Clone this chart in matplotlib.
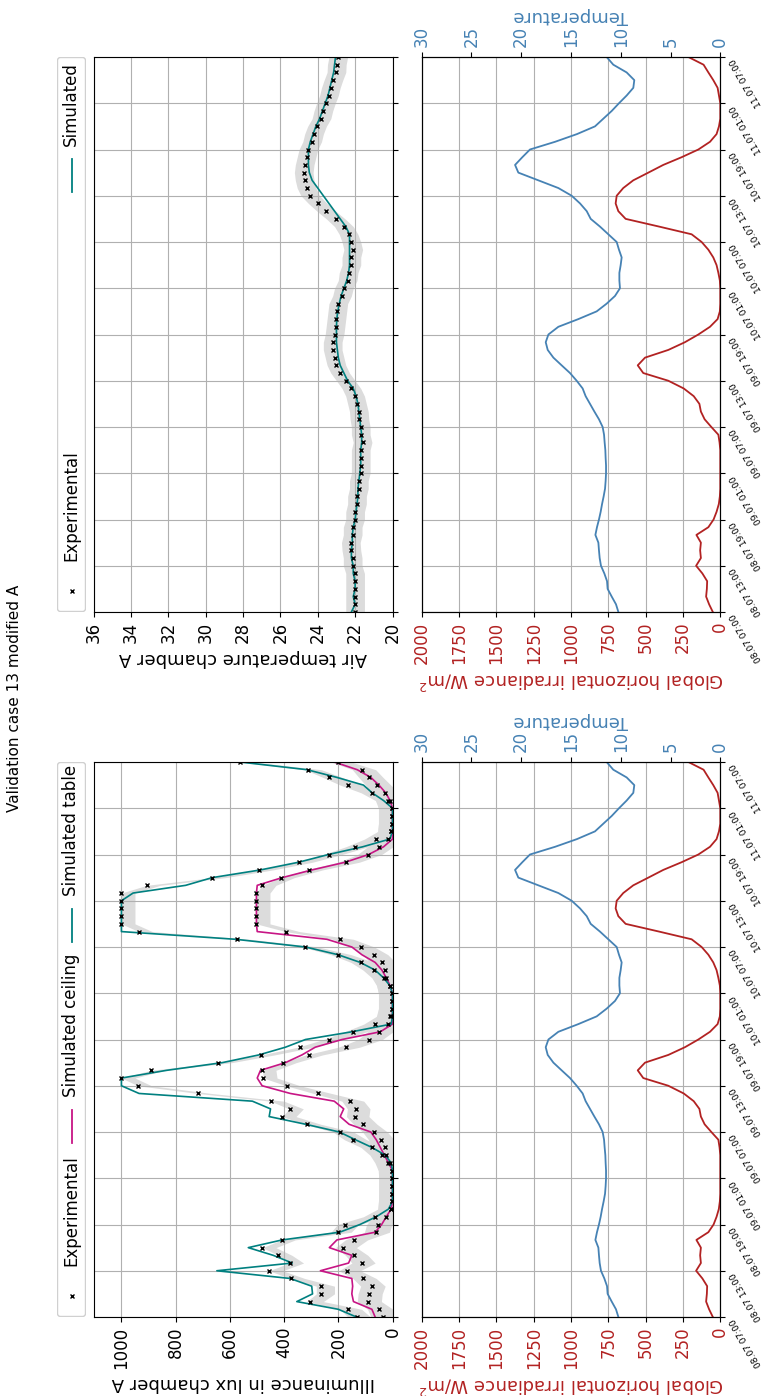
import numpy as np
import pandas as pd
import matplotlib
matplotlib.use("Agg")
import matplotlib.pyplot as plt
import matplotlib.dates as mdates
from matplotlib.patches import FancyBboxPatch
from matplotlib.lines import Line2D

# hourly values, 08.07 07:00 -> 11.07 07:00
times = pd.date_range("2023-07-08 07:00", periods=73, freq="h")

illum_exp_table = [
    131, 164, 305, 264, 264, 374, 455, 378, 421, 480,
    409, 202, 175, 66, 5, 2, 1, 1, 1, 3,
    17, 38, 76, 146, 194, 314, 406, 379, 450, 718,
    939, 1000, 892, 642, 485, 342, 234, 145, 64, 11,
    2, 2, 2, 10, 30, 67, 118, 202, 324, 575,
    936, 1000, 1000, 1000, 1000, 1000, 907, 666, 491, 345,
    236, 140, 61, 5, 2, 2, 2, 15, 75, 163,
    236, 312, 563,
]
illum_exp_ceiling = [
    34, 48, 91, 88, 77, 110, 169, 114, 141, 183,
    142, 61, 52, 23, 4, 2, 1, 1, 1, 2,
    10, 23, 29, 44, 69, 107, 137, 133, 156, 275,
    391, 476, 480, 405, 308, 171, 87, 48, 15, 5,
    2, 2, 2, 9, 23, 27, 39, 67, 117, 194,
    393, 502, 502, 502, 502, 502, 480, 412, 308, 172,
    90, 48, 15, 5, 2, 2, 2, 8, 27, 56,
    85, 112, 202,
]
illum_sim_table = [
    133, 200, 353, 295, 298, 378, 648, 370, 440, 532,
    407, 195, 120, 60, 15, 0, 0, 0, 0, 0,
    5, 27, 76, 137, 196, 320, 455, 450, 517, 935,
    1000, 1000, 833, 628, 493, 395, 321, 150, 5, 0,
    0, 0, 0, 10, 33, 64, 119, 201, 321, 579,
    1000, 1000, 1000, 1000, 1000, 957, 763, 665, 487, 346,
    236, 110, 10, 0, 0, 0, 0, 33, 75, 107,
    205, 315, 563,
]
illum_sim_ceiling = [
    64, 76, 144, 150, 147, 150, 266, 162, 150, 233,
    205, 64, 40, 23, 5, 0, 0, 0, 0, 0,
    15, 30, 45, 60, 80, 160, 193, 180, 215, 377,
    481, 499, 487, 395, 334, 285, 186, 45, 0, 0,
    0, 0, 0, 9, 23, 39, 64, 113, 150, 242,
    499, 502, 502, 502, 502, 502, 499, 407, 297, 174,
    88, 33, 0, 0, 0, 0, 0, 9, 25, 50,
    80, 130, 215,
]
air_exp = [
    22.0, 22.0, 22.0, 22.0, 22.0, 22.0, 22.13, 22.13, 22.2, 22.23,
    22.13, 22.13, 22.0, 22.0, 21.9, 21.9, 21.8, 21.8, 21.7, 21.7,
    21.7, 21.7, 21.6, 21.7, 21.7, 21.77, 21.8, 21.9, 22.0, 22.2,
    22.5, 22.8, 23.0, 23.1, 23.2, 23.2, 23.1, 23.05, 23.0, 22.95,
    22.9, 22.7, 22.6, 22.4, 22.35, 22.2, 22.2, 22.1, 22.2, 22.35,
    22.6, 23.04, 23.54, 24.0, 24.4, 24.6, 24.7, 24.75, 24.7, 24.6,
    24.5, 24.3, 24.2, 24.04, 23.8, 23.7, 23.56, 23.4, 23.3, 23.16,
    23.0, 22.98, 22.9,
]
air_sim = [
    22.2, 22.0, 22.1, 22.0, 22.0, 22.1, 22.1, 22.2, 22.2, 22.15,
    22.15, 22.1, 22.0, 21.95, 21.9, 21.85, 21.85, 21.8, 21.75, 21.7,
    21.7, 21.7, 21.65, 21.65, 21.7, 21.75, 21.8, 21.85, 21.95, 22.1,
    22.4, 22.6, 22.8, 22.9, 22.95, 23.0, 23.0, 23.0, 22.98, 22.93,
    22.85, 22.75, 22.6, 22.45, 22.35, 22.3, 22.3, 22.3, 22.3, 22.3,
    22.5, 22.8, 23.1, 23.4, 23.7, 24.0, 24.3, 24.45, 24.5, 24.5,
    24.5, 24.4, 24.25, 24.1, 23.9, 23.75, 23.6, 23.45, 23.35, 23.25,
    23.15, 23.1, 23.05,
]
irradiance = [
    50, 75, 95, 90, 88, 120, 162, 130, 135, 130,
    160, 80, 45, 25, 10, 3, 0, 0, 0, 0,
    0, 0, 5, 13, 60, 105, 130, 140, 178, 245,
    348, 516, 553, 504, 348, 237, 147, 69, 18, 3,
    0, 0, 0, 3, 13, 25, 47, 80, 125, 192,
    410, 634, 683, 701, 694, 650, 583, 482, 382, 259,
    147, 69, 25, 9, 0, 0, 0, 9, 18, 47,
    80, 112, 214,
]
outdoor_temp = [
    10.24, 10.48, 10.91, 11.32, 11.38, 11.65, 11.99, 12.12, 12.19, 12.25,
    12.55, 12.39, 12.19, 12.02, 11.88, 11.72, 11.58, 11.52, 11.48, 11.48,
    11.52, 11.55, 11.62, 11.68, 11.82, 12.19, 12.65, 13.09, 13.53, 13.83,
    14.43, 15.10, 15.94, 16.77, 17.34, 17.54, 17.27, 16.27, 14.26, 12.42,
    11.42, 10.58, 10.08, 10.14, 10.14, 10.01, 9.91, 10.18, 10.41, 11.25,
    12.09, 13.02, 13.42, 14.09, 14.93, 16.27, 18.28, 20.29, 20.62, 19.89,
    19.12, 16.6, 14.4, 12.59, 11.75, 10.91, 10.18, 9.41, 8.74, 8.64,
    9.41, 10.75, 11.42,
]

# uncertainty bands around the measurements
illum_band = 50
illum_band_level = 400
air_band = 0.5

W, H = 767, 1396
plt.rcParams["font.size"] = 12


def rect(x0, y0, x1, y1):
    return [x0 / W, 1 - y1 / H, (x1 - x0) / W, (y1 - y0) / H]


def time_axis(ax, labels):
    ax.set_ylim(times[0], times[-1])
    ax.yaxis.set_major_locator(mdates.HourLocator(byhour=[1, 7, 13, 19]))
    ax.yaxis.set_major_formatter(mdates.DateFormatter("%d.%m %H:%M"))
    ax.yaxis.tick_right()
    if labels:
        ax.tick_params(axis="y", labelsize=6.5, labelrotation=120, pad=2.5)
        plt.setp(ax.get_yticklabels(), ha="left", va="top")
    else:
        ax.tick_params(axis="y", labelright=False)


def legend(y0, y1, entries):
    lax = fig.add_axes(rect(57, y0, 86, y1))
    lax.set_xlim(0, 29)
    lax.set_ylim(0, y1 - y0)
    lax.axis("off")
    lax.add_patch(FancyBboxPatch((0.5, 0.5), 28, y1 - y0 - 1,
                                 boxstyle="round,pad=0,rounding_size=3",
                                 fc="white", ec="#d0d0d0", lw=1))
    for kind, color, pos, text in entries:
        if kind == "marker":
            lax.add_line(Line2D([14.5], [pos + 16], marker="x", ms=3,
                                color="black", ls="none"))
        else:
            lax.add_line(Line2D([14.5, 14.5], [pos, pos + 33], color=color, lw=1.3))
        lax.text(14, pos + 46, text, rotation=90, ha="center", va="bottom")


def irradiance_panel(y0, y1):
    ax = fig.add_axes(rect(421.7, y0, 720.3, y1))
    ax.plot(irradiance, times, color="firebrick", lw=1.3)
    ax.set_xlim(2000, 0)
    ax.set_xticks(range(0, 2001, 250))
    ax.tick_params(axis="x", labelrotation=90, labelcolor="firebrick")
    ax.set_xlabel("Global horizontal irradiance W/m$^2$", color="firebrick",
                  rotation=180, fontsize=13)
    ax.grid(True)
    time_axis(ax, True)
    ax2 = ax.twiny()
    ax2.plot(outdoor_temp, times, color="steelblue", lw=1.3)
    ax2.set_xlim(30, 0)
    ax2.set_xticks(range(0, 31, 5))
    ax2.tick_params(axis="x", labelrotation=90, labelcolor="steelblue")
    ax2.set_xlabel("Temperature", color="steelblue", rotation=180, fontsize=13)
    return ax


fig = plt.figure(figsize=(W / 100, H / 100), dpi=100)

# illuminance
ax = fig.add_axes(rect(93.5, 762, 392.5, 1317))
for exp in (illum_exp_ceiling, illum_exp_table):
    e = np.array(exp, dtype=float)
    upper = e + illum_band * np.clip(1 - e / illum_band_level, 0, 1)
    ax.fill_betweenx(times, e - illum_band, upper, color="#dcdcdc", lw=0)
ax.plot(illum_sim_ceiling, times, color="mediumvioletred", lw=1.2)
ax.plot(illum_sim_table, times, color="teal", lw=1.2)
ax.plot(illum_exp_ceiling, times, "x", color="black", ms=3)
ax.plot(illum_exp_table, times, "x", color="black", ms=3)
ax.set_xlim(1103, 0)
ax.set_xticks(range(0, 1001, 200))
ax.tick_params(axis="x", labelrotation=90)
ax.set_xlabel("Illuminance in lux chamber A", rotation=180, fontsize=13)
ax.grid(True)
time_axis(ax, False)
legend(762, 1317, [("marker", "black", 5, "Experimental"),
                   ("line", "mediumvioletred", 174, "Simulated ceiling"),
                   ("line", "teal", 375, "Simulated table")])

# air temperature
ax = fig.add_axes(rect(93.5, 57, 392.5, 612))
e = np.array(air_exp)
ax.fill_betweenx(times, e - air_band, e + air_band, color="#dcdcdc", lw=0)
ax.plot(air_sim, times, color="teal", lw=1.2)
ax.plot(air_exp, times, "x", color="black", ms=3)
ax.set_xlim(36, 20)
ax.set_xticks(range(20, 37, 2))
ax.tick_params(axis="x", labelrotation=90)
ax.set_xlabel("Air temperature chamber A", rotation=180, fontsize=13)
ax.grid(True)
time_axis(ax, False)
legend(57, 612, [("marker", "black", 5, "Experimental"),
                 ("line", "teal", 420, "Simulated")])

irradiance_panel(762, 1317)
irradiance_panel(57, 612)

fig.text(15 / W, 0.5, "Validation case 13 modified A", rotation=90,
         ha="center", va="center", fontsize=11)

fig.savefig("out.png", dpi=100)
